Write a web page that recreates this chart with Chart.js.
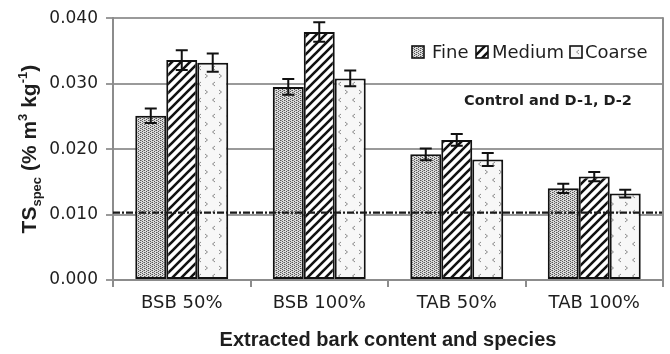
<!DOCTYPE html>
<html><head><meta charset="utf-8">
<script src="https://cdn.jsdelivr.net/npm/chart.js@4.4.0/dist/chart.umd.min.js"></script>
<style>html,body{margin:0;padding:0;background:#fff;}#wrap{width:670px;height:354px;}</style>
</head><body><div id="wrap"><canvas id="c" width="670" height="354"></canvas></div>
<script>
const categories = ['BSB 50%', 'BSB 100%', 'TAB 50%', 'TAB 100%'];
const seriesNames = ['Fine', 'Medium', 'Coarse'];
const fineValues = [0.0251, 0.0295, 0.0192, 0.0140];
const mediumValues = [0.0336, 0.0379, 0.0214, 0.0158];
const coarseValues = [0.0332, 0.0308, 0.0184, 0.0132];
const fineErrors = [0.0011, 0.0012, 0.0009, 0.0007];
const mediumErrors = [0.0015, 0.0015, 0.0009, 0.0007];
const coarseErrors = [0.0014, 0.0012, 0.0010, 0.0006];
const controlLevel = 0.0103;
const controlLabel = 'Control and D-1, D-2';
const xTitle = 'Extracted bark content and species';
const yMin = 0, yMax = 0.04, yStep = 0.01;

function makePattern(kind) {
  const c = document.createElement('canvas');
  const g = c.getContext('2d');
  if (kind === 'fine') {
    c.width = 4; c.height = 4;
    g.fillStyle = '#dcdcdc'; g.fillRect(0, 0, 4, 4);
    g.fillStyle = '#555';
    [[0,0],[2,1],[0,2],[2,3]].forEach(p => g.fillRect(p[0], p[1], 1, 1));
    g.fillStyle = '#999';
    [[1,0],[3,2]].forEach(p => g.fillRect(p[0], p[1], 1, 1));
  } else if (kind === 'medium') {
    c.width = 9; c.height = 9;
    g.fillStyle = '#fff'; g.fillRect(0, 0, 9, 9);
    g.strokeStyle = '#111'; g.lineWidth = 2.6;
    g.beginPath();
    g.moveTo(-1, 10); g.lineTo(10, -1);
    g.moveTo(-5, 5); g.lineTo(5, -5);
    g.moveTo(4, 14); g.lineTo(14, 4);
    g.stroke();
  } else {
    c.width = 14; c.height = 16;
    g.fillStyle = '#f7f7f7'; g.fillRect(0, 0, 14, 16);
    g.strokeStyle = '#8a8a8a'; g.lineWidth = 1;
    g.beginPath();
    g.moveTo(5, 2); g.lineTo(2.5, 4); g.lineTo(5, 6);
    g.moveTo(9, 10); g.lineTo(11.5, 12); g.lineTo(9, 14);
    g.stroke();
  }
  return g.createPattern(c, 'repeat');
}

const patterns = [makePattern('fine'), makePattern('medium'), makePattern('coarse')];
const valueSets = [fineValues, mediumValues, coarseValues];
const errorSets = [fineErrors, mediumErrors, coarseErrors];

const decorPlugin = {
  id: 'decor',
  afterDatasetsDraw(chart) {
    const ctx = chart.ctx;
    const ys = chart.scales.y;
    const area = chart.chartArea;
    ctx.save();
    // control dashed line
    const yc = ys.getPixelForValue(controlLevel);
    ctx.strokeStyle = '#1a1a1a';
    ctx.lineWidth = 2.4;
    ctx.setLineDash([7, 2, 2, 2]);
    ctx.beginPath();
    ctx.moveTo(area.left, yc); ctx.lineTo(area.right, yc);
    ctx.stroke();
    ctx.setLineDash([]);
    // error bars
    ctx.strokeStyle = '#111';
    ctx.lineWidth = 2;
    valueSets.forEach((vals, i) => {
      const meta = chart.getDatasetMeta(i);
      meta.data.forEach((bar, j) => {
        const x = bar.x;
        const y1 = ys.getPixelForValue(vals[j] + errorSets[i][j]);
        const y2 = ys.getPixelForValue(vals[j] - errorSets[i][j]);
        ctx.beginPath();
        ctx.moveTo(x, y1); ctx.lineTo(x, y2);
        ctx.moveTo(x - 6, y1); ctx.lineTo(x + 6, y1);
        ctx.moveTo(x - 6, y2); ctx.lineTo(x + 6, y2);
        ctx.stroke();
      });
    });
    // right border
    ctx.strokeStyle = '#8c8c8c';
    ctx.lineWidth = 2;
    ctx.beginPath();
    ctx.moveTo(area.right, area.top - 1); ctx.lineTo(area.right, area.bottom);
    ctx.stroke();
    ctx.restore();
  },
  afterDraw(chart) {
    const ctx = chart.ctx;
    const area = chart.chartArea;
    ctx.save();
    ctx.fillStyle = '#1e1e1e';
    // legend
    const legendY = 52;
    const items = [
      { box: 412, text: 432 },
      { box: 476, text: 492 },
      { box: 570, text: 585 }
    ];
    ctx.font = '18px "DejaVu Sans"';
    ctx.textBaseline = 'middle';
    ctx.textAlign = 'left';
    items.forEach((it, i) => {
      ctx.fillStyle = patterns[i];
      ctx.fillRect(it.box, legendY - 6, 12, 12);
      ctx.strokeStyle = '#111';
      ctx.lineWidth = 1.6;
      ctx.strokeRect(it.box, legendY - 6, 12, 12);
      ctx.fillStyle = '#1e1e1e';
      ctx.fillText(seriesNames[i], it.text, legendY + 1);
    });
    // control label
    ctx.font = 'bold 14.5px "DejaVu Sans"';
    ctx.textAlign = 'center';
    ctx.fillText(controlLabel, 548, 101);
    // x title
    ctx.font = 'bold 20px "Liberation Sans"';
    ctx.textAlign = 'center';
    ctx.textBaseline = 'alphabetic';
    ctx.fillText(xTitle, (area.left + area.right) / 2, 346);
    // y title
    const segs = [
      { t: 'TS', s: 21, dy: 0 },
      { t: 'spec', s: 13, dy: 5 },
      { t: ' (% m', s: 21, dy: 0 },
      { t: '3', s: 13, dy: -9 },
      { t: ' kg', s: 21, dy: 0 },
      { t: '-1', s: 13, dy: -9 },
      { t: ')', s: 21, dy: 0 }
    ];
    let total = 0;
    segs.forEach(sg => { ctx.font = 'bold ' + sg.s + 'px "Liberation Sans"'; sg.w = ctx.measureText(sg.t).width; total += sg.w; });
    ctx.translate(36, (area.top + area.bottom) / 2);
    ctx.rotate(-Math.PI / 2);
    ctx.textAlign = 'left';
    let x = -total / 2;
    segs.forEach(sg => {
      ctx.font = 'bold ' + sg.s + 'px "Liberation Sans"';
      ctx.fillText(sg.t, x, sg.dy);
      x += sg.w;
    });
    ctx.restore();
  }
};

const chart = new Chart(document.getElementById('c'), {
  type: 'bar',
  data: {
    labels: categories,
    datasets: seriesNames.map((name, i) => ({
      label: name,
      data: valueSets[i],
      backgroundColor: patterns[i],
      borderColor: '#111',
      borderWidth: 2,
      borderSkipped: false,
      categoryPercentage: 0.676,
      barPercentage: 1.0
    }))
  },
  options: {
    responsive: false,
    animation: false,
    devicePixelRatio: 1,
    layout: { padding: { top: 18, right: 7, left: 0, bottom: 0 } },
    plugins: { legend: { display: false }, tooltip: { enabled: false } },
    scales: {
      x: {
        offset: true,
        grid: { display: true, drawOnChartArea: false, drawTicks: true, tickLength: 7, color: '#8c8c8c', lineWidth: 2, offset: true },
        border: { display: true, color: '#8c8c8c', width: 2 },
        ticks: { font: { family: 'DejaVu Sans', size: 18 }, color: '#1e1e1e', padding: 6, maxRotation: 0, autoSkip: false },
        afterFit: s => { s.height = 74; }
      },
      y: {
        min: yMin, max: yMax,
        grid: { color: '#9a9a9a', lineWidth: 2, tickLength: 7 },
        border: { display: true, color: '#8c8c8c', width: 2 },
        ticks: { stepSize: yStep, font: { family: 'DejaVu Sans', size: 17 }, color: '#1e1e1e', padding: 8, callback: v => Number(v).toFixed(3) },
        afterFit: s => { s.width = 113; }
      }
    }
  },
  plugins: [decorPlugin]
});
</script>
</body></html>
